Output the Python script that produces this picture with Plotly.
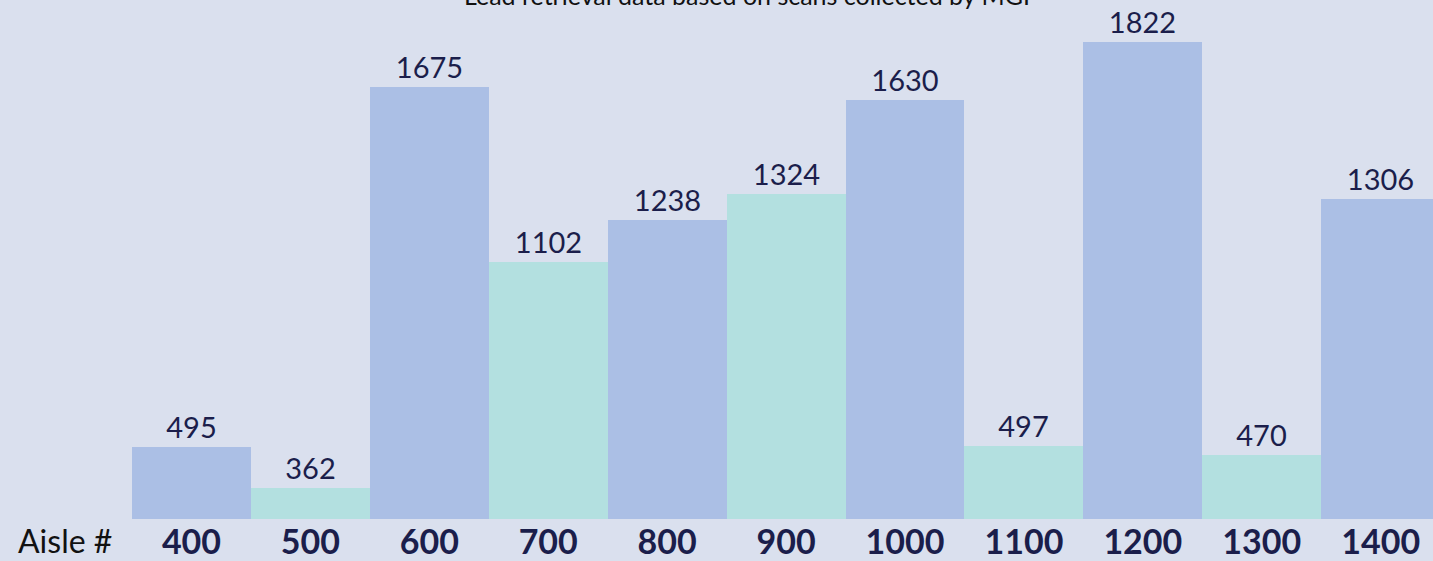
import plotly.graph_objects as go

aisles = ["400", "500", "600", "700", "800", "900", "1000", "1100", "1200", "1300", "1400"]
scans = [495, 362, 1675, 1102, 1238, 1324, 1630, 497, 1822, 470, 1306]
bar_colors = ["#abbfe5", "#b3e0e0"]
title_text = "Lead retrieval data based on scans collected by MGI"
axis_label = "Aisle #"

BG = "#dae0ee"
NAVY = "#1b1e4b"
FONT = "Lato, sans-serif"

colors = [bar_colors[i % 2] for i in range(len(aisles))]

fig = go.Figure(go.Bar(
    x=aisles, y=scans,
    marker=dict(color=colors, line=dict(width=0)),
    text=[str(v) for v in scans],
    textposition="outside",
    textfont=dict(family=FONT, size=29, color=NAVY),
    cliponaxis=False,
    width=1.0,
    hoverinfo="skip",
))

fig.update_layout(
    width=1433, height=561,
    margin=dict(l=132, r=0, t=0, b=42),
    paper_bgcolor=BG, plot_bgcolor=BG,
    bargap=0,
    showlegend=False,
    xaxis=dict(
        type="category",
        range=[-0.5, 10.44],
        showgrid=False, zeroline=False, showline=False,
        ticks="",
        tickfont=dict(family=FONT, size=34, color=NAVY, weight="bold"),
    ),
    yaxis=dict(
        range=[259, 1959],
        showgrid=False, zeroline=False, showline=False,
        showticklabels=False, ticks="",
    ),
    annotations=[
        dict(text=axis_label, xref="paper", yref="paper", x=-0.089, y=0,
             xanchor="left", yanchor="top", yshift=0, showarrow=False,
             font=dict(family=FONT, size=32, color="#111111")),
        dict(text=title_text, xref="paper", yref="paper", x=(747 - 132) / 1301, y=1,
             xanchor="center", yanchor="bottom", yshift=-12, showarrow=False,
             font=dict(family=FONT, size=25, color="#111111")),
    ],
)

fig.write_html(
    "out.html",
    config={"displayModeBar": False},
    post_script="document.body.style.margin='0';document.body.style.overflow='hidden';document.body.style.background='" + BG + "';",
)
